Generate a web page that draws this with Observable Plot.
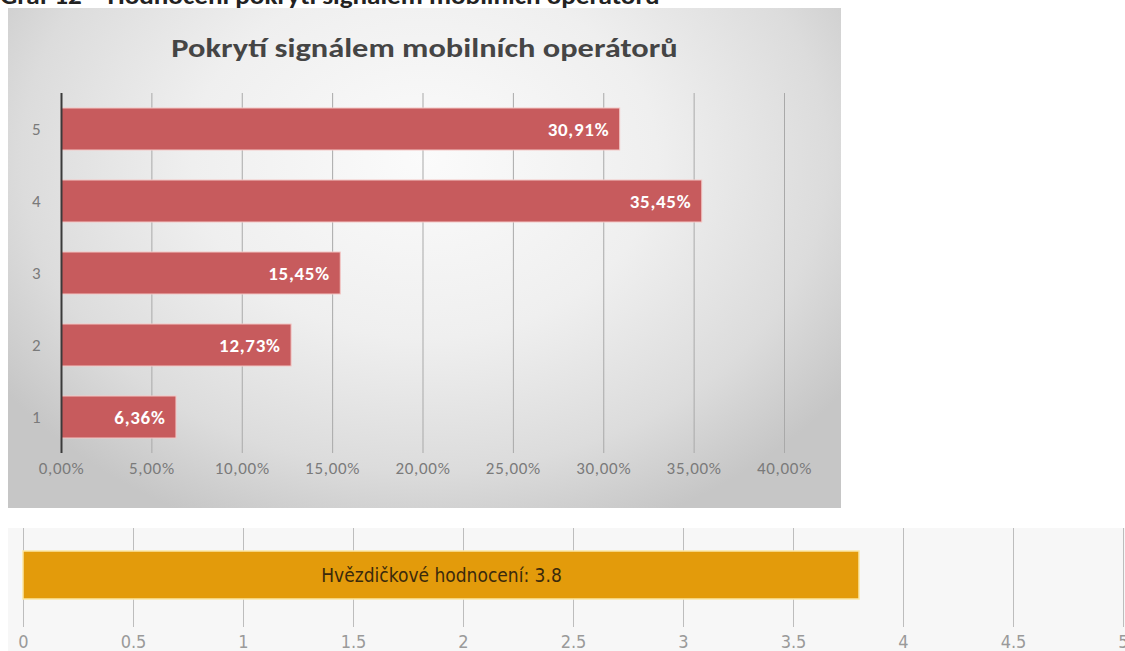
<!DOCTYPE html>
<html><head><meta charset="utf-8">
<script src="https://cdn.jsdelivr.net/npm/d3@7"></script>
<script src="https://cdn.jsdelivr.net/npm/@observablehq/plot@0.6"></script>
<style>
html,body{margin:0;padding:0;width:1125px;height:651px;overflow:hidden;background:#fff;}
#caption{position:absolute;left:0;top:-16px;font-family:Carlito,Lato,sans-serif;font-weight:bold;font-size:24px;line-height:24px;color:#222;white-space:nowrap;transform:scaleX(1.13);transform-origin:0 0;}
#chartTop{position:absolute;left:8px;top:8px;width:833px;height:500px;
  background:radial-gradient(ellipse 62% 80% at 50% 30%, #fbfbfb 0%, #efefef 45%, #dcdcdc 78%, #c6c6c6 100%);}
#title{position:absolute;left:0;width:833px;top:25px;text-align:center;font-family:Carlito,Lato,sans-serif;font-weight:bold;font-size:27px;line-height:30px;color:#454545;transform:scaleX(1.2);transform-origin:50% 0;}
#topPlot{position:absolute;left:0;top:0;}
#bottom{position:absolute;left:8px;top:528px;width:1117px;height:123px;background:#f7f7f7;}
#botPlot{position:absolute;left:0;top:528px;}
</style></head><body>
<div id="caption">Graf 12 – Hodnocení pokrytí signálem mobilních operátorů</div>
<div id="chartTop"><div id="title">Pokrytí signálem mobilních operátorů</div><div id="topPlot"></div></div>
<div id="bottom"></div>
<div id="botPlot"></div>
<script>
// ---- top chart data ----
const categories = ["1", "2", "3", "4", "5"];
const shares = [6.36, 12.73, 15.45, 35.45, 30.91]; // percent
const xTicks = [0, 5, 10, 15, 20, 25, 30, 35, 40];

// ---- bottom chart data ----
const ratingLabel = "Hvězdičkové hodnocení";
const ratingValue = 3.8;
const ratingTicks = [0, 0.5, 1, 1.5, 2, 2.5, 3, 3.5, 4, 4.5, 5];

const fmtPct = d => d.toFixed(2).replace(".", ",") + "%";
const topData = categories.map((c, i) => ({cat: c, value: shares[i]}));

const chart1 = Plot.plot({
  width: 833, height: 500,
  marginTop: 85, marginBottom: 55, marginLeft: 53, marginRight: 57,
  style: {background: "transparent", fontFamily: "Carlito, Lato, sans-serif", overflow: "visible"},
  x: {domain: [0, 40], ticks: xTicks, tickFormat: fmtPct, label: null},
  y: {domain: categories.slice().reverse(), paddingInner: 0.417, paddingOuter: 0.208, label: null},
  marks: [
    Plot.ruleX(xTicks, {stroke: "#a9a9a9", strokeWidth: 1}),
    Plot.barX(topData, {x: "value", y: "cat", fill: "#c75b5d", stroke: "#f3c7c5", strokeWidth: 1}),
    Plot.ruleX([0], {stroke: "#3a3a3a", strokeWidth: 2}),
    Plot.text(topData, {x: "value", y: "cat", text: d => fmtPct(d.value), textAnchor: "end", dx: -11,
      fill: "white", fontWeight: "bold", fontSize: 19, className: "barlbl"}),
    Plot.axisX({ticks: xTicks, tickFormat: fmtPct, tickSize: 0, tickPadding: 8, fontSize: 17, color: "#7a7a7a", className: "xax"}),
    Plot.axisY({tickSize: 0, tickPadding: 21, fontSize: 17, color: "#7a7a7a"})
  ]
});
chart1.querySelectorAll("g.barlbl text, g.xax text").forEach(t => t.style.letterSpacing = "0.7px");
document.getElementById("topPlot").appendChild(chart1);

const botData = [{label: ratingLabel, value: ratingValue}];
const chart2 = Plot.plot({
  width: 1125, height: 123,
  marginTop: 0, marginBottom: 24, marginLeft: 23, marginRight: 2,
  style: {background: "transparent", fontFamily: "'DejaVu Sans', sans-serif", overflow: "visible"},
  x: {domain: [0, 5], ticks: ratingTicks, label: null},
  y: {domain: [ratingLabel], paddingInner: 0.347, paddingOuter: 0.347, align: 0.45, axis: null},
  marks: [
    Plot.ruleX(ratingTicks, {stroke: "#bdbdbd", strokeWidth: 1}),
    Plot.barX(botData, {x: "value", y: "label", fill: "#e39b0b", stroke: "#fbe7a6", strokeWidth: 1.5}),
    Plot.text(botData, {x: d => d.value / 2, y: "label", text: d => `${d.label}: ${d.value}`,
      fill: "#3b2a0c", fontSize: 19}),
    Plot.axisX({ticks: ratingTicks, tickSize: 0, tickPadding: 8, fontSize: 18, color: "#9a9a9a",
      tickFormat: d => String(d)})
  ]
});
chart2.querySelectorAll("text").forEach(t => t.style.fontStretch = "condensed");
document.getElementById("botPlot").appendChild(chart2);
</script>
</body></html>
